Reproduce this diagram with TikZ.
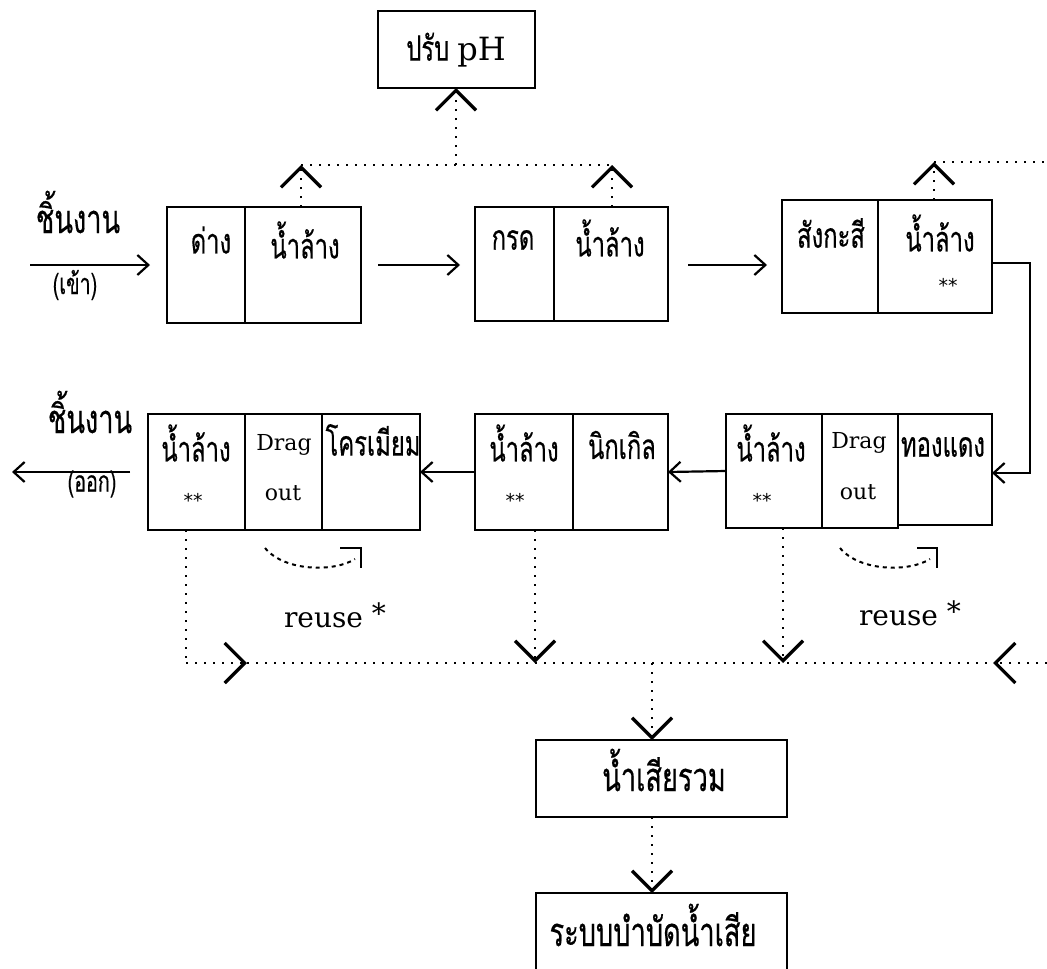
\documentclass[tikz,border=0pt]{standalone}
\usepackage{fontspec}
\setmainfont{DejaVu Serif}
\newfontfamily\thai[Script=Thai,FakeStretch=0.68,FakeBold=0.4]{Loma}
\newfontfamily\starfont{DejaVu Sans}
\usetikzlibrary{arrows.meta}
\tikzset{
  cellbox/.style={draw, line width=2.6pt, rectangle, inner sep=0pt, outer sep=0pt},
  lab/.style={inner sep=0pt, font=\thai\fontsize{35}{40}\selectfont},
  biglab/.style={inner sep=0pt, font=\thai\fontsize{40}{46}\selectfont},
  smalllab/.style={inner sep=0pt, font=\thai\fontsize{29}{33}\selectfont},
  latlab/.style={inner sep=0pt, font=\fontsize{22}{25}\selectfont},
  reuselab/.style={inner sep=0pt, font=\fontsize{28}{32}\selectfont},
  stars/.style={inner sep=0pt, font=\starfont\fontsize{19}{22}\selectfont},
  flow/.style={line width=2.2pt, -{Straight Barb[length=11pt,width=20pt]}},
  dots/.style={line width=2.6pt, dash pattern=on 2pt off 7pt},
  chev/.style={-{Straight Barb[length=20pt,width=40pt,line width=3.2pt]}},
  reusecurve/.style={line width=2pt, dash pattern=on 4pt off 4pt},
  reusemark/.style={line width=2.8pt},
}
\begin{document}
\begin{tikzpicture}[x=1pt,y=-1pt]
\useasboundingbox (0,0) rectangle (1047,969);
% boxes
\node[cellbox, minimum width=157pt, minimum height=77pt] (ph) at (456.5,49.5) {};
\node[cellbox, minimum width=78pt, minimum height=116pt] (a1) at (206,265) {};
\node[cellbox, minimum width=116pt, minimum height=116pt] (a2) at (303,265) {};
\node[cellbox, minimum width=79pt, minimum height=114pt] (b1) at (514.5,264) {};
\node[cellbox, minimum width=114pt, minimum height=114pt] (b2) at (611,264) {};
\node[cellbox, minimum width=96pt, minimum height=113pt] (c1) at (830,256.5) {};
\node[cellbox, minimum width=114pt, minimum height=113pt] (c2) at (935,256.5) {};
\node[cellbox, minimum width=96pt, minimum height=114pt] (d1) at (774,471) {};
\node[cellbox, minimum width=76pt, minimum height=114pt] (d2) at (860,471) {};
\node[cellbox, minimum width=94pt, minimum height=111pt] (d3) at (945,469.5) {};
\node[cellbox, minimum width=98pt, minimum height=116pt] (e1) at (524,472) {};
\node[cellbox, minimum width=95pt, minimum height=116pt] (e2) at (620.5,472) {};
\node[cellbox, minimum width=97pt, minimum height=116pt] (f1) at (196.5,472) {};
\node[cellbox, minimum width=77pt, minimum height=116pt] (f2) at (283.5,472) {};
\node[cellbox, minimum width=98pt, minimum height=116pt] (f3) at (371,472) {};
\node[cellbox, minimum width=251pt, minimum height=77pt] (comb) at (661.5,778.5) {};
\node[cellbox, minimum width=251pt, minimum height=80pt] (treat) at (661.5,933) {};
% texts
\node[lab] (tph) at (456,50) {ปรับ {\rmfamily\fontsize{32}{36}\selectfont pH}};
\node[lab] (ta1) at (211,240) {ด่าง};
\node[lab] (ta2) at (305,240) {น้ำล้าง};
\node[lab] (tb1) at (513,240) {กรด};
\node[lab] (tb2) at (610,238) {น้ำล้าง};
\node[lab] (tc1) at (831,233) {สังกะสี};
\node[lab] (tc2) at (940,233) {น้ำล้าง};
\node[stars] (sc2) at (948,285) {**};
\node[biglab] (tin) at (78,212) {ชิ้นงาน};
\node[smalllab] (tin2) at (75,285) {(เข้า)};
\node[biglab] (tout) at (90,412) {ชิ้นงาน};
\node[smalllab] (tout2) at (92,484) {(ออก)};
\node[lab] (tf1) at (196,443) {น้ำล้าง};
\node[stars] (sf1) at (193,500) {**};
\node[latlab] (tf2a) at (284,445) {Drag};
\node[latlab] (tf2b) at (283,493) {out};
\node[lab] (tf3) at (373,440) {โครเมียม};
\node[lab] (te1) at (524,443) {น้ำล้าง};
\node[stars] (se1) at (515,500) {**};
\node[lab] (te2) at (622,445) {นิกเกิล};
\node[lab] (td1) at (771,443) {น้ำล้าง};
\node[stars] (sd1) at (762,500) {**};
\node[latlab] (td2a) at (859,443) {Drag};
\node[latlab] (td2b) at (858,492) {out};
\node[lab] (td3) at (943,447) {ทองแดง};
\node[reuselab] (ru1) at (335,615) {reuse \raisebox{4pt}{*}};
\node[reuselab] (ru2) at (910,613) {reuse \raisebox{4pt}{*}};
\node[biglab] (tcomb) at (664,770) {น้ำเสียรวม};
\node[biglab] (ttreat) at (653,925) {ระบบบำบัดน้ำเสีย};
% solid flow
\coordinate (inS) at (30,265);
\coordinate (inE) at (150,265);
\draw[flow] (inS) -- (inE);
\draw[flow, shorten <=17pt, shorten >=15pt] (a2.east) -- (a2.east -| b1.west);
\draw[flow, shorten <=20pt, shorten >=15pt] (b2.east |- 0,265) -- (c1.west |- 0,265);
\coordinate (turn1) at (1030,263);
\coordinate (turn2) at (1030,473);
\draw[flow] (c2.east |- turn1) -- (turn1) -- (turn2) -- (turn2 -| d3.east);
\draw[flow] (d1.west) -- (e2.east);
\draw[flow] (e1.west) -- (f3.east);
\coordinate (outS) at (130,472);
\coordinate (outE) at (12,472);
\draw[flow] (outS) -- (outE);
% top dotted
\coordinate (j1) at (301,165);
\coordinate (j2) at (612,165);
\coordinate (j3) at (456,165);
\coordinate (j4) at (934,162);
\coordinate (eR1) at (1047,162);
\draw[dots] (j1) -- (j2);
\draw[dots,chev] (j1 |- a2.north) -- (j1);
\draw[dots,chev] (j2 |- b2.north) -- (j2);
\draw[dots,chev] (j3) -- (j3 |- ph.south);
\draw[dots,chev] (j4 |- c2.north) -- (j4);
\draw[dots] (j4) -- (eR1);
% bottom dotted
\coordinate (k0) at (186,663);
\coordinate (k1) at (247,663);
\coordinate (k2) at (535,663);
\coordinate (k3) at (783,663);
\coordinate (k4) at (652,663);
\coordinate (kE) at (993,663);
\coordinate (eR2) at (1047,663);
\draw[dots] (k0 |- f1.south) -- (k0);
\draw[dots,chev] (k0) -- (k1);
\draw[dots] (k1) -- (kE);
\draw[dots,chev] (k2 |- e1.south) -- (k2);
\draw[dots,chev] (k3 |- d1.south) -- (k3);
\draw[dots,chev] (eR2) -- (kE);
\draw[dots,chev] (k4) -- (k4 |- comb.north);
\draw[dots,chev] (k4 |- comb.south) -- (k4 |- treat.north);
% reuse curves
\coordinate (r1s) at (265,548);
\coordinate (r1e) at (355,559);
\draw[reusecurve] (r1s) .. controls (285,572) and (335,572) .. (r1e);
\draw[reusemark] (340,548) -- (361,548) -- (361,568);
\coordinate (r2s) at (840,548);
\coordinate (r2e) at (930,559);
\draw[reusecurve] (r2s) .. controls (860,572) and (910,572) .. (r2e);
\draw[reusemark] (917,548) -- (937,548) -- (937,568);
\end{tikzpicture}
\end{document}
